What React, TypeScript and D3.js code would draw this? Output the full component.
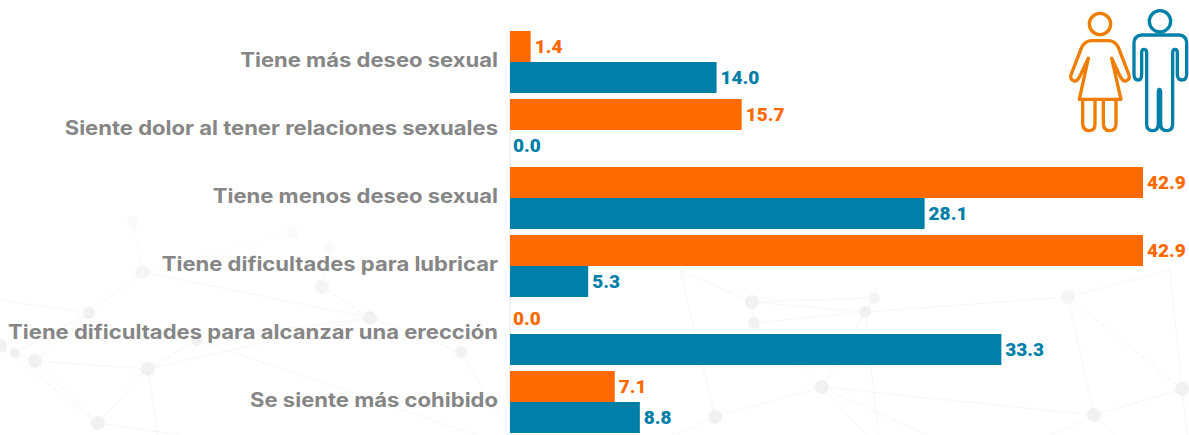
import React, { useEffect, useRef } from 'react';
import * as d3 from 'd3';

const categories = [
  'Tiene más deseo sexual',
  'Siente dolor al tener relaciones sexuales',
  'Tiene menos deseo sexual',
  'Tiene dificultades para lubricar',
  'Tiene dificultades para alcanzar una erección',
  'Se siente más cohibido',
];
const mujeres = [1.4, 15.7, 42.9, 42.9, 0.0, 7.1];
const hombres = [14.0, 0.0, 28.1, 5.3, 33.3, 8.8];

// faint network drawn behind the chart, last ones sit off the canvas
const nodes: [number, number, number][] = [
  [133, 222, 6], [292, 233, 6], [330, 248, 6], [142, 272, 7], [322, 287, 7],
  [89, 313, 6], [370, 318, 7], [197, 340, 6], [0, 346, 7], [15, 353, 5],
  [35, 361, 7], [148, 369, 7], [461, 352, 6], [98, 423, 7], [752, 302, 7],
  [874, 298, 6], [865, 312, 6], [754, 323, 6], [1068, 297, 7], [822, 387, 7],
  [715, 417, 7], [1094, 415, 7], [1182, 389, 7],
  [0, 300, 0], [160, 450, 0], [280, 450, 0], [520, 450, 0], [640, 450, 0],
  [880, 450, 0], [1020, 450, 0], [1130, 450, 0], [1189, 450, 0], [1170, 270, 0],
  [960, 450, 0], [680, 270, 0],
];
const links: [number, number][] = [
  [0, 3], [1, 3], [2, 4], [3, 5], [4, 6], [5, 9], [5, 10], [6, 11], [6, 7],
  [7, 11], [9, 10], [10, 11], [8, 13], [10, 13], [11, 13], [6, 12], [14, 15],
  [14, 16], [16, 18], [15, 16], [16, 17], [14, 17], [17, 19], [16, 19], [19, 20],
  [18, 21], [18, 22], [21, 22], [19, 21], [3, 6], [5, 23], [11, 24], [13, 25],
  [7, 26], [12, 26], [20, 27], [19, 28], [16, 28], [19, 33], [21, 29], [21, 30],
  [22, 31], [22, 32], [18, 32], [20, 34], [14, 34],
];

const womanPath = 'M145 175 L118 298 L243 298 L215 175 M215 175 L240 228 Q248 245 258 243 Q272 238 266 222 L235 142 Q225 122 205 122 L155 122 Q135 122 125 142 L94 222 Q88 238 102 243 Q112 245 120 228 L145 175 M128 298 L128 372 Q130 392 147 392 Q165 392 165 372 L165 298 M190 298 L190 372 Q192 392 208 392 Q228 392 228 372 L228 298';
const manPath = 'M305 105 L418 105 Q440 107 440 130 L440 222 Q440 240 426 240 Q412 240 412 222 L412 158 Q412 148 405 148 Q398 148 398 158 L398 372 Q398 392 380 392 Q362 392 362 372 L362 278 Q362 268 358 268 Q355 268 355 278 L355 372 Q355 392 338 392 Q320 392 320 372 L320 158 Q320 148 312 148 Q305 148 305 158 L305 222 Q305 240 295 240 Q282 240 282 222 L282 130 Q282 107 305 105 Z';

const ORANGE = '#FF6A00';
const BLUE = '#0080A9';

const App = () => {
  const svgRef = useRef<SVGSVGElement>(null);

  useEffect(() => {
    const svg = d3.select(svgRef.current);
    svg.selectAll('*').remove();

    const bg = svg.append('g');
    bg.selectAll('line')
      .data(links)
      .join('line')
      .attr('x1', (d) => nodes[d[0]][0])
      .attr('y1', (d) => nodes[d[0]][1])
      .attr('x2', (d) => nodes[d[1]][0])
      .attr('y2', (d) => nodes[d[1]][1])
      .attr('stroke', (d) => (nodes[d[0]][1] < 260 ? '#fbfbfb' : '#f6f6f6'))
      .attr('stroke-width', 1);
    bg.selectAll('circle')
      .data(nodes)
      .join('circle')
      .attr('cx', (d) => d[0])
      .attr('cy', (d) => d[1])
      .attr('r', (d) => d[2])
      .attr('fill', (d) => (d[1] < 260 ? '#fafafa' : d[1] < 300 ? '#f5f5f5' : '#f1f1f1'));

    const x = d3.scaleLinear().domain([0, 42.9]).range([510, 1143]);
    const y = d3.scaleBand().domain(categories).range([28, 436]).paddingInner(6 / 68).paddingOuter(3 / 68);
    const half = y.bandwidth() / 2;

    const rows = categories.map((c, i) => ({ c, m: mujeres[i], h: hombres[i] }));

    // Inter stretched a little, the original face is wider
    svg.append('g')
      .selectAll('text')
      .data(rows)
      .join('text')
      .attr('transform', (d) => `translate(498,${y(d.c)! + half + 5}) scale(1.13,1)`)
      .attr('text-anchor', 'end')
      .attr('font-family', 'Inter, sans-serif')
      .attr('font-weight', 700)
      .attr('font-size', 19.5)
      .attr('fill', '#868686')
      .text((d) => d.c);

    // baseline only shows next to the zero bars
    svg.append('line')
      .attr('x1', x(0)).attr('x2', x(0))
      .attr('y1', y.range()[0]).attr('y2', y.range()[1] - 3)
      .attr('stroke', '#e4e4e4').attr('stroke-width', 1);

    const series = [
      { key: 'm' as const, color: ORANGE, off: 0 },
      { key: 'h' as const, color: BLUE, off: half },
    ];
    series.forEach((s) => {
      const g = svg.append('g');
      g.selectAll('rect')
        .data(rows)
        .join('rect')
        .attr('x', x(0))
        .attr('y', (d) => y(d.c)! + s.off)
        .attr('width', (d) => x(d[s.key]) - x(0))
        .attr('height', half)
        .attr('fill', s.color);
      g.selectAll('text')
        .data(rows)
        .join('text')
        .attr('x', (d) => x(d[s.key]) + (d[s.key] === 0 ? 3 : 4))
        .attr('y', (d) => y(d.c)! + s.off + half / 2 + 6)
        .attr('font-family', 'Roboto, sans-serif')
        .attr('font-weight', 900)
        .attr('font-size', 19)
        .attr('fill', s.color)
        .text((d) => d[s.key].toFixed(1));
    });

    const icons = svg.append('g')
      .attr('transform', 'translate(1040,0) scale(0.3333)')
      .attr('fill', 'none')
      .attr('stroke-width', 10)
      .attr('stroke-linecap', 'round')
      .attr('stroke-linejoin', 'round');
    icons.append('circle').attr('cx', 180).attr('cy', 72).attr('r', 32).attr('stroke', '#EF7D00');
    icons.append('path').attr('d', womanPath).attr('stroke', '#EF7D00');
    icons.append('circle').attr('cx', 360).attr('cy', 64).attr('r', 32).attr('stroke', BLUE);
    icons.append('path').attr('d', manPath).attr('stroke', BLUE);
  }, []);

  return (
    <svg
      ref={svgRef}
      width={1189}
      height={435}
      style={{ position: 'absolute', left: 0, top: 0, background: '#fff' }}
    />
  );
};

export default App;
